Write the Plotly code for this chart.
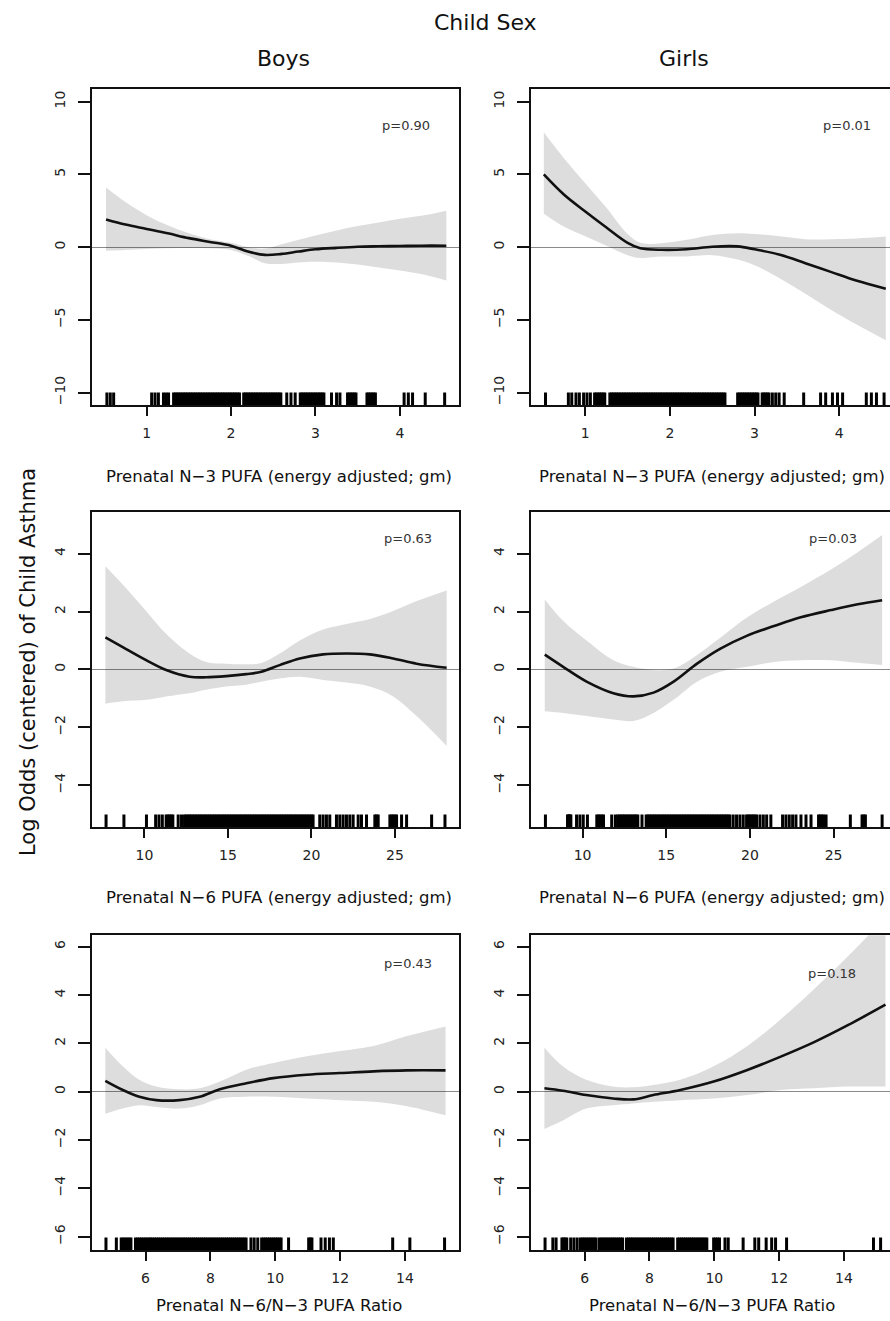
import plotly.graph_objects as go

FONT = "DejaVu Sans"
INK = "#111111"

# ---------------- data ----------------
# Row 1: Prenatal N-3 PUFA
n3_boys_x = [0.52, 0.75, 1.0, 1.25, 1.5, 1.75, 2.0, 2.2, 2.4, 2.6, 2.8, 3.0, 3.25, 3.5, 3.75, 4.0, 4.25, 4.55]
n3_boys_fit = [1.9, 1.55, 1.25, 0.95, 0.62, 0.36, 0.1, -0.3, -0.53, -0.46, -0.3, -0.15, -0.05, 0.03, 0.06, 0.08, 0.1, 0.1]
n3_boys_up = [4.1, 3.1, 2.2, 1.5, 0.95, 0.55, 0.3, 0.0, -0.1, 0.2, 0.5, 0.8, 1.15, 1.45, 1.7, 1.95, 2.15, 2.5]
n3_boys_lo = [-0.25, -0.2, -0.12, -0.08, -0.06, -0.08, -0.2, -0.6, -1.1, -1.15, -1.05, -1.0, -1.05, -1.2, -1.4, -1.6, -1.85, -2.3]
n3_boys_rug = [0.53, 0.57, 0.61, 1.06, 1.10, 1.14, 1.20, 1.23, 1.26,
               1.32, 1.34, 1.36, 1.38, 1.40, 1.42, 1.44, 1.46, 1.48, 1.50, 1.52, 1.54, 1.56, 1.58, 1.60,
               1.62, 1.64, 1.66, 1.68, 1.70, 1.72, 1.74, 1.76, 1.78, 1.80, 1.82, 1.84, 1.86, 1.88, 1.90,
               1.92, 1.94, 1.96, 1.98, 2.00, 2.02, 2.04, 2.06, 2.08, 2.10,
               2.15, 2.17, 2.19, 2.21, 2.23, 2.25, 2.27, 2.29, 2.31, 2.33, 2.35, 2.37, 2.39, 2.41, 2.43,
               2.45, 2.47, 2.49, 2.51, 2.53, 2.55, 2.57, 2.59,
               2.66, 2.71, 2.76,
               2.82, 2.84, 2.86, 2.88, 2.90, 2.92, 2.94, 2.96, 2.98, 3.00, 3.02, 3.04, 3.06, 3.08, 3.10,
               3.19, 3.25, 3.29, 3.38, 3.40, 3.42, 3.44, 3.46, 3.48,
               3.61, 3.63, 3.65, 3.67, 3.69, 3.71, 4.05, 4.10, 4.15, 4.30, 4.53]

n3_girls_x = [0.51, 0.75, 1.0, 1.25, 1.5, 1.65, 1.9, 2.2, 2.5, 2.8, 3.0, 3.3, 3.6, 3.9, 4.2, 4.55]
n3_girls_fit = [5.0, 3.6, 2.45, 1.35, 0.3, -0.07, -0.18, -0.14, 0.03, 0.05, -0.15, -0.52, -1.1, -1.7, -2.3, -2.86]
n3_girls_up = [7.9, 6.1, 4.4, 2.7, 0.9, 0.3, 0.27, 0.5, 0.84, 0.95, 0.9, 0.75, 0.55, 0.55, 0.6, 0.73]
n3_girls_lo = [2.3, 1.4, 0.75, 0.1, -0.55, -0.75, -0.65, -0.64, -0.55, -0.85, -1.25, -2.15, -3.2, -4.3, -5.3, -6.4]
n3_girls_rug = [0.53, 0.80, 0.84, 0.89, 0.93, 0.98, 1.02, 1.06,
                1.11, 1.13, 1.15, 1.17, 1.19, 1.21, 1.23,
                1.29, 1.31, 1.33, 1.35, 1.37, 1.39, 1.41, 1.43, 1.45, 1.47, 1.49, 1.51, 1.53, 1.55,
                1.57, 1.59, 1.61, 1.63, 1.65, 1.67, 1.69, 1.71, 1.73, 1.75, 1.77, 1.79, 1.81, 1.83,
                1.85, 1.87, 1.89, 1.91, 1.93, 1.95, 1.97, 1.99, 2.01, 2.03, 2.05, 2.07, 2.09, 2.11,
                2.13, 2.15, 2.17, 2.19, 2.21, 2.23, 2.25, 2.27, 2.29, 2.31, 2.33, 2.35, 2.37, 2.39,
                2.41, 2.43, 2.45, 2.47, 2.49, 2.51, 2.53, 2.55, 2.57, 2.59, 2.61, 2.63, 2.65,
                2.80, 2.82, 2.84, 2.86, 2.88, 2.90, 2.92, 2.94, 2.96, 2.98, 3.00, 3.02, 3.04,
                3.09, 3.11, 3.13, 3.15, 3.17, 3.21, 3.25, 3.29, 3.35, 3.58, 3.78, 3.84, 3.92, 3.98,
                4.04, 4.32, 4.38, 4.44, 4.53]

# Row 2: Prenatal N-6 PUFA
n6_boys_x = [7.66, 8.7, 10.1, 11.3, 12.7, 13.7, 14.9, 16.1, 17.0, 18.1, 19.3, 20.7, 22.1, 23.5, 24.9, 26.3, 28.1]
n6_boys_fit = [1.11, 0.77, 0.32, -0.02, -0.25, -0.27, -0.23, -0.16, -0.08, 0.15, 0.38, 0.52, 0.55, 0.52, 0.38, 0.2, 0.06]
n6_boys_up = [3.56, 2.93, 2.02, 1.23, 0.55, 0.26, 0.2, 0.18, 0.22, 0.55, 1.0, 1.38, 1.57, 1.74, 2.02, 2.36, 2.73]
n6_boys_lo = [-1.18, -1.10, -1.05, -0.93, -0.82, -0.70, -0.59, -0.53, -0.42, -0.31, -0.25, -0.36, -0.45, -0.59, -0.93, -1.61, -2.64]
n6_boys_rug = [7.70, 8.77, 10.12, 10.67, 10.87, 11.07, 11.30, 11.40, 11.50, 11.60, 11.70, 12.02, 12.22,
               12.4, 12.5, 12.6, 12.7, 12.8, 12.9, 13.0, 13.1, 13.2, 13.3, 13.4, 13.5, 13.6, 13.7, 13.8, 13.9,
               14.0, 14.1, 14.2, 14.3, 14.4, 14.5, 14.6, 14.7, 14.8, 14.9, 15.0, 15.1, 15.2, 15.3, 15.4,
               15.5, 15.6, 15.7, 15.8, 15.9, 16.0, 16.1, 16.2, 16.3, 16.4, 16.5, 16.6, 16.7, 16.8, 16.9,
               17.0, 17.1, 17.2, 17.3, 17.4, 17.5, 17.6, 17.7, 17.8, 17.9, 18.0, 18.1, 18.2, 18.3, 18.4,
               18.5, 18.6, 18.7, 18.8, 18.9, 19.0, 19.1, 19.2, 19.3, 19.4, 19.5, 19.6, 19.7, 19.8, 19.9,
               20.0, 20.1,
               20.5, 20.7, 20.9, 21.1, 21.5, 21.7, 21.9, 22.1, 22.3, 22.5, 22.8, 23.0, 23.3,
               23.8, 23.9, 24.0, 24.7, 24.8, 24.9, 25.0, 25.1, 25.4, 25.7, 27.2, 28.0]

n6_girls_x = [7.74, 8.84, 10.24, 11.84, 13.04, 14.24, 15.44, 16.84, 18.24, 19.84, 21.44, 23.04, 24.84, 26.44, 27.9]
n6_girls_fit = [0.51, 0.09, -0.42, -0.82, -0.93, -0.8, -0.42, 0.2, 0.72, 1.17, 1.5, 1.8, 2.05, 2.25, 2.39]
n6_girls_up = [2.42, 1.68, 1.0, 0.32, 0.09, -0.02, 0.03, 0.5, 1.1, 1.8, 2.35, 2.85, 3.45, 4.05, 4.64]
n6_girls_lo = [-1.44, -1.5, -1.61, -1.73, -1.78, -1.5, -1.05, -0.42, -0.08, 0.09, 0.26, 0.32, 0.32, 0.23, 0.15]
n6_girls_rug = [7.78, 9.10, 9.15, 9.20, 9.25, 9.30, 9.64, 9.84, 10.04, 10.29,
                10.85, 10.95, 11.05, 11.15, 11.25, 11.74, 11.96,
                12.1, 12.2, 12.3, 12.4, 12.5, 12.6, 12.7, 12.8, 12.9, 13.0, 13.1, 13.2, 13.3, 13.55,
                13.8, 13.9, 14.0, 14.1, 14.2, 14.3, 14.4, 14.5, 14.6, 14.7, 14.8, 14.9, 15.0, 15.1,
                15.2, 15.3, 15.4, 15.5, 15.6, 15.7, 15.8, 15.9, 16.0, 16.1, 16.2, 16.3, 16.4, 16.5,
                16.6, 16.7, 16.8, 16.9, 17.0, 17.1, 17.2, 17.3, 17.4, 17.5, 17.6, 17.7, 17.8, 17.9,
                18.0, 18.1, 18.2, 18.3, 18.4, 18.5, 18.6, 18.7, 18.8,
                19.0, 19.2, 19.4, 19.6, 19.8, 19.9, 20.0, 20.1, 20.2, 20.3, 20.4, 20.6, 20.8, 21.0,
                21.25, 21.95, 22.15, 22.35, 22.55, 22.75, 23.05, 23.35, 23.65,
                24.1, 24.2, 24.3, 24.4, 24.55, 26.0, 26.7, 26.8, 26.9, 27.9]

# Row 3: Prenatal N-6/N-3 PUFA ratio
ratio_boys_x = [4.76, 5.3, 5.81, 6.33, 7.05, 7.67, 8.29, 9.11, 9.94, 10.97, 12.0, 13.03, 14.06, 15.25]
ratio_boys_fit = [0.45, 0.07, -0.21, -0.35, -0.35, -0.21, 0.1, 0.35, 0.56, 0.7, 0.77, 0.84, 0.88, 0.88]
ratio_boys_up = [1.82, 1.05, 0.49, 0.21, 0.1, 0.14, 0.42, 0.91, 1.19, 1.47, 1.68, 1.89, 2.3, 2.7]
ratio_boys_lo = [-0.91, -0.7, -0.56, -0.63, -0.7, -0.56, -0.28, -0.21, -0.21, -0.28, -0.35, -0.42, -0.6, -0.98]
ratio_boys_rug = [4.78, 5.10, 5.25, 5.31, 5.37, 5.43, 5.49, 5.55,
                  5.69, 5.75, 5.81, 5.87, 5.93, 5.99, 6.05, 6.11, 6.16,
                  6.22, 6.28, 6.34, 6.40, 6.46, 6.52, 6.58, 6.64, 6.70, 6.76, 6.82, 6.88, 6.94, 7.00,
                  7.06, 7.12, 7.18, 7.24, 7.30, 7.36, 7.42, 7.48, 7.54, 7.60, 7.66, 7.72, 7.78, 7.84,
                  7.90, 7.96, 8.02, 8.08, 8.14, 8.20, 8.26, 8.32, 8.38, 8.44, 8.50, 8.56, 8.62, 8.68,
                  8.74, 8.80, 8.86, 8.92, 8.98, 9.04, 9.10,
                  9.25, 9.35, 9.46,
                  9.58, 9.64, 9.70, 9.76, 9.82, 9.88, 9.94, 10.00, 10.06, 10.12, 10.18,
                  10.41, 11.03, 11.08, 11.13, 11.41, 11.54, 11.67, 11.79, 13.62, 14.15, 15.22]

ratio_girls_x = [4.76, 5.33, 6.05, 6.88, 7.5, 8.12, 8.95, 9.98, 11.02, 12.05, 13.08, 14.12, 15.28]
ratio_girls_fit = [0.14, 0.04, -0.14, -0.28, -0.32, -0.14, 0.07, 0.42, 0.9, 1.45, 2.05, 2.75, 3.6]
ratio_girls_up = [1.82, 1.05, 0.49, 0.21, 0.18, 0.28, 0.49, 1.05, 1.89, 3.0, 4.25, 5.6, 7.2]
ratio_girls_lo = [-1.54, -1.19, -0.7, -0.56, -0.49, -0.42, -0.35, -0.28, -0.14, 0.07, 0.14, 0.21, 0.21]
ratio_girls_rug = [4.78, 5.02, 5.12, 5.30, 5.35, 5.40, 5.45, 5.57, 5.67, 5.77, 5.87,
                   5.93, 5.99, 6.05, 6.11, 6.17, 6.23, 6.29, 6.35,
                   6.45, 6.51, 6.57, 6.63, 6.69, 6.75, 6.81, 6.87, 6.93, 6.99, 7.05, 7.11, 7.17,
                   7.29, 7.35, 7.41, 7.47, 7.53, 7.59, 7.65, 7.71, 7.77, 7.83, 7.89, 7.95, 8.01, 8.07,
                   8.13, 8.19, 8.25, 8.31, 8.37, 8.43, 8.49, 8.55, 8.61, 8.67, 8.73,
                   8.87, 8.93, 8.99, 9.05, 9.11, 9.17, 9.23, 9.29, 9.35, 9.41, 9.47, 9.53, 9.59, 9.65,
                   9.71, 9.77,
                   9.98, 10.04, 10.10, 10.16, 10.33, 10.43, 10.89, 11.25, 11.37, 11.60, 11.77, 11.89,
                   12.23, 14.91, 15.13]

p_values = ["p=0.90", "p=0.01", "p=0.63", "p=0.03", "p=0.43", "p=0.18"]
x_titles = ["Prenatal N\u22123 PUFA (energy adjusted; gm)",
            "Prenatal N\u22126 PUFA (energy adjusted; gm)",
            "Prenatal N\u22126/N\u22123 PUFA Ratio"]
col_titles = ["Boys", "Girls"]
y_ticks = [[-10, -5, 0, 5, 10], [-4, -2, 0, 2, 4], [-6, -4, -2, 0, 2, 4, 6]]
x_ticks = [[1, 2, 3, 4], [10, 15, 20, 25], [6, 8, 10, 12, 14]]

panels = [
    (n3_boys_x, n3_boys_fit, n3_boys_up, n3_boys_lo, n3_boys_rug),
    (n3_girls_x, n3_girls_fit, n3_girls_up, n3_girls_lo, n3_girls_rug),
    (n6_boys_x, n6_boys_fit, n6_boys_up, n6_boys_lo, n6_boys_rug),
    (n6_girls_x, n6_girls_fit, n6_girls_up, n6_girls_lo, n6_girls_rug),
    (ratio_boys_x, ratio_boys_fit, ratio_boys_up, ratio_boys_lo, ratio_boys_rug),
    (ratio_girls_x, ratio_girls_fit, ratio_girls_up, ratio_girls_lo, ratio_girls_rug),
]

# ---------------- layout geometry (pixels) ----------------
W, H = 890, 1321
col_px = [(91.7, 459.0), (530.7, 890.0)]
row_px = [(89.0, 405.0), (511.7, 827.0), (935.3, 1250.0)]
x_ranges = [[(0.35, 4.70), (0.355, 4.60)],
            [(6.84, 28.84), (6.90, 28.37)],
            [(4.34, 15.665), (4.337, 15.42)]]
y_ranges = [(-10.85, 10.87), (-5.44, 5.448), (-6.55, 6.47)]
p_pos = [(406, 126), (847, 125), (408, 538), (833, 538), (408, 963), (832, 973)]
xt_y = [476, 897, 1305]
xt_x = [279, 712]
RUG_PX = 12.5


def px(x):
    return x / W


def py(y):
    return 1 - y / H


def note(text, x, y, size, color=INK, angle=0):
    return dict(text=text, x=px(x), y=py(y), xref="paper", yref="paper",
                xanchor="center", yanchor="middle", showarrow=False, textangle=angle,
                font=dict(family=FONT, size=size, color=color))


fig = go.Figure()
layout = {}
annotations = []

for i, (xs, fit, up, lo, rug) in enumerate(panels):
    r, c = divmod(i, 2)
    n = i + 1
    xa = "x" if n == 1 else f"x{n}"
    ya = "y" if n == 1 else f"y{n}"
    y0, y1 = y_ranges[r]
    top_px, bot_px = row_px[r]
    rug_h = RUG_PX * (y1 - y0) / (bot_px - top_px)

    # confidence band
    fig.add_trace(go.Scatter(x=xs, y=up, mode="lines", line=dict(width=0, shape="spline"),
                             hoverinfo="skip", xaxis=xa, yaxis=ya))
    fig.add_trace(go.Scatter(x=xs, y=lo, mode="lines", line=dict(width=0, shape="spline"),
                             fill="tonexty", fillcolor="rgba(0,0,0,0.135)",
                             hoverinfo="skip", xaxis=xa, yaxis=ya))
    # fitted curve
    fig.add_trace(go.Scatter(x=xs, y=fit, mode="lines",
                             line=dict(color="#111111", width=2.6, shape="spline"),
                             xaxis=xa, yaxis=ya))
    # rug
    rx, ry = [], []
    for v in rug:
        rx += [v, v, None]
        ry += [y0, y0 + rug_h, None]
    fig.add_trace(go.Scatter(x=rx, y=ry, mode="lines", line=dict(color="#000000", width=3.0),
                             hoverinfo="skip", xaxis=xa, yaxis=ya))

    xl, xr = col_px[c]
    axis_common = dict(showgrid=False, showline=True, linecolor=INK, linewidth=2,
                       ticks="outside", tickwidth=2, tickcolor=INK,
                       tickfont=dict(family=FONT, size=14, color="#222222"))
    layout["xaxis" if n == 1 else f"xaxis{n}"] = dict(
        axis_common, domain=[px(xl), px(xr)], range=list(x_ranges[r][c]),
        tickvals=x_ticks[r], ticklen=9, mirror=True, zeroline=False,
        anchor=ya, ticklabelstandoff=5)
    layout["yaxis" if n == 1 else f"yaxis{n}"] = dict(
        axis_common, domain=[py(bot_px), py(top_px)], range=[y0, y1],
        tickvals=y_ticks[r], ticklen=12, tickangle=-90, mirror=(c == 0),
        zeroline=True, zerolinecolor="#8a8a8a", zerolinewidth=1,
        anchor=xa, ticklabelstandoff=7)

    annotations.append(note(p_values[i], p_pos[i][0], p_pos[i][1], 13, "#333333"))
    annotations.append(note(x_titles[r], xt_x[c], xt_y[r], 16.5))

annotations.append(note("Child Sex", 485, 22, 22))
annotations.append(note(col_titles[0], 283, 58, 22))
annotations.append(note(col_titles[1], 684, 58, 22))
annotations.append(note("Log Odds (centered) of Child Asthma", 28, 662, 21, angle=-90))

fig.update_layout(width=W, height=H, margin=dict(l=0, r=0, t=0, b=0),
                  paper_bgcolor="white", plot_bgcolor="white", showlegend=False,
                  annotations=annotations, **layout)

fig.write_html("out.html")
